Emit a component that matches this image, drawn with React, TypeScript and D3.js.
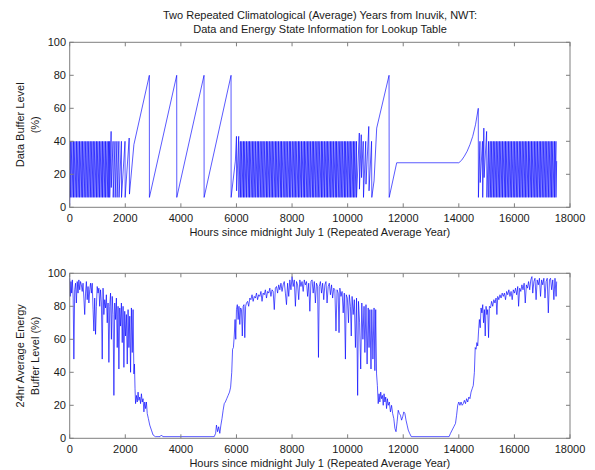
import React from 'react';
import * as d3 from 'd3';

// ---------- chart text ----------
const titleLines = [
  'Two Repeated Climatological (Average) Years from Inuvik, NWT:',
  'Data and Energy State Information for Lookup Table',
];
const xLabel = 'Hours since midnight July 1 (Repeated Average Year)';
const topYLabel = ['Data Buffer Level', '(%)'];
const bottomYLabel = ['24hr Average Energy', 'Buffer Level (%)'];

// ---------- ticks ----------
const xTicks = [0, 2000, 4000, 6000, 8000, 10000, 12000, 14000, 16000, 18000];
const yTicks = [0, 20, 40, 60, 80, 100];

// ---------- data buffer (top panel) ----------
const oscHigh = 40;
const oscLow = 6;
const bufferStart: [number, number][] = [[0, 1]];
const oscResetsAutumn = [25, 80, 136, 190, 247, 300, 355, 412, 465, 520, 577, 630, 686, 740, 797, 850, 905, 962, 1015, 1070, 1127, 1180, 1236, 1290, 1347, 1400, 1440];
const bufferTransition1: [number, number][] = [
  [1490, 46], [1495, 12], [1560, 40], [1565, 6], [1630, 40], [1635, 6], [1700, 40], [1705, 6],
  [1770, 40], [1775, 6], [1860, 40], [1865, 6], [1990, 40], [1995, 6], [2140, 42], [2150, 8],
  [2310, 38], [2865, 80], [2868, 6], [3850, 80], [3853, 6], [4833, 80], [4836, 6], [5805, 80],
  [5808, 6], [5960, 28], [6000, 43], [6005, 10], [6080, 43], [6085, 6],
];
const oscResetsSummer = [6140, 6195, 6252, 6302, 6360, 6418, 6468, 6525, 6583, 6632, 6690, 6748, 6798, 6855, 6913, 6962, 7020, 7078, 7128, 7185, 7243, 7292, 7350, 7408, 7458, 7515, 7573, 7622, 7680, 7738, 7788, 7845, 7903, 7952, 8010, 8068, 8118, 8175, 8233, 8282, 8340, 8398, 8448, 8505, 8563, 8612, 8670, 8728, 8778, 8835, 8893, 8942, 9000, 9058, 9108, 9165, 9223, 9272, 9330, 9388, 9438, 9495, 9553, 9602, 9660, 9718, 9768, 9825, 9883, 9932, 9990, 10048, 10098, 10155, 10213, 10262, 10320];
const bufferTransition2: [number, number][] = [
  [10420, 45], [10425, 11], [10490, 44], [10500, 18], [10560, 40], [10570, 6], [10650, 40], [10660, 14],
  [10760, 49], [10770, 10], [10860, 40], [10870, 6], [10950, 16], [11045, 48], [11490, 80], [11495, 6],
  [11765, 27], [14000, 27], [14100, 28.5], [14200, 31], [14300, 34], [14400, 38], [14500, 43], [14600, 50],
  [14700, 60], [14705, 6], [14760, 40], [14770, 15], [14850, 40], [14860, 6], [14900, 48], [14910, 18],
  [15000, 46], [15010, 6], [15070, 40], [15075, 6],
];
const oscResetsSpring = [15130, 15185, 15242, 15296, 15350, 15407, 15460, 15516, 15570, 15628, 15680, 15735, 15792, 15845, 15900, 15957, 16010, 16066, 16120, 16178, 16230, 16285, 16342, 16395, 16450, 16507, 16560, 16616, 16670, 16728, 16780, 16835, 16892, 16945, 17000, 17057, 17110, 17166, 17220, 17278, 17330, 17385, 17442, 17495];
const bufferEnd: [number, number][] = [[17520, 28]];

// ---------- energy buffer (bottom panel) ----------
const energyAutumn1: [number, number][] = [
  [0, 97], [20, 86], [45, 95], [70, 88], [95, 96], [125, 85], [150, 48], [180, 90], [210, 94], [240, 82], [270, 95], [300, 88], [330, 96], [360, 90], [390, 95], [420, 93], [450, 89], [480, 94], [510, 85], [540, 75], [570, 88], [600, 95], [630, 84], [660, 92], [690, 82], [720, 90], [750, 94], [780, 88], [810, 94], [840, 78], [870, 65], [900, 85], [930, 63], [960, 80], [990, 92], [1020, 88], [1050, 91], [1080, 80], [1110, 90], [1140, 82], [1170, 48], [1200, 91], [1230, 75], [1260, 84], [1290, 79], [1320, 87], [1350, 70], [1380, 82], [1410, 46], [1440, 80], [1470, 88], [1500, 60], [1530, 86], [1560, 75], [1590, 26], [1620, 82], [1650, 72], [1680, 85], [1710, 55], [1740, 80], [1770, 42], [1800, 79], [1830, 68], [1860, 82], [1890, 58], [1920, 80], [1950, 43], [1980, 77], [2010, 62], [2040, 75], [2070, 45], [2100, 78], [2130, 55], [2160, 74], [2190, 40], [2220, 79], [2250, 52], [2280, 78], [2310, 39], [2330, 45], [2350, 30], [2370, 21], [2400, 26], [2430, 22], [2460, 28], [2490, 23], [2520, 25], [2550, 21], [2580, 27], [2610, 22], [2640, 24], [2670, 16], [2700, 22], [2730, 18], [2760, 22], [2790, 15], [2830, 12], [2880, 8], [2940, 5], [3000, 2], [3080, 1],
];
const energyWinter1: [number, number][] = [[3250, 1], [3300, 2], [3350, 1], [5200, 1]];
const energySpring1: [number, number][] = [
  [5250, 3], [5280, 8], [5320, 4], [5360, 7], [5400, 3], [5440, 8], [5480, 12], [5520, 17], [5560, 21], [5600, 22], [5650, 24], [5700, 26], [5750, 28], [5790, 31], [5830, 40], [5860, 54], [5890, 55], [5920, 62], [5950, 72], [5975, 60], [6000, 78], [6030, 81], [6060, 72], [6090, 80], [6120, 69], [6150, 79], [6180, 78], [6210, 62], [6240, 80], [6270, 81], [6300, 61], [6330, 80], [6360, 82], [6400, 83], [6440, 80], [6480, 85],
];
const energySummer1: [number, number][] = [
  [6520, 84], [6560, 87], [6600, 83], [6640, 86], [6680, 85], [6720, 88], [6760, 84], [6800, 87], [6840, 86], [6880, 89], [6920, 83], [6960, 88], [7000, 87], [7040, 90], [7080, 85], [7120, 89], [7160, 88], [7200, 91], [7240, 86], [7280, 90], [7320, 89], [7360, 78], [7400, 91], [7440, 92], [7480, 88], [7520, 93], [7560, 90], [7600, 94], [7640, 89], [7680, 93], [7720, 95], [7760, 88], [7800, 81], [7840, 94], [7880, 86], [7920, 96], [7960, 90], [8000, 98], [8040, 92], [8080, 96], [8120, 80], [8160, 95], [8200, 93], [8240, 84], [8280, 96], [8320, 92], [8360, 95], [8400, 89], [8440, 96], [8480, 93], [8520, 95], [8560, 86], [8600, 94], [8640, 77], [8680, 95], [8720, 96], [8760, 88], [8800, 95], [8840, 82], [8880, 94], [8920, 92], [8950, 49], [8980, 92], [9020, 95], [9060, 88], [9100, 94], [9140, 84], [9180, 93], [9220, 95], [9260, 82], [9300, 92], [9340, 94], [9380, 87], [9420, 93], [9460, 85], [9500, 91], [9540, 90], [9580, 65], [9620, 90], [9660, 88], [9690, 64], [9720, 91], [9760, 86], [9800, 89], [9840, 76], [9880, 88], [9920, 48], [9950, 87], [9990, 85], [10030, 70], [10060, 87], [10100, 80], [10130, 62], [10160, 86], [10200, 75], [10240, 84], [10280, 55], [10320, 85], [10360, 26], [10390, 83], [10430, 70], [10470, 42], [10510, 82], [10550, 60], [10590, 80], [10620, 52], [10660, 81], [10700, 45], [10740, 79], [10770, 55], [10800, 78], [10840, 42], [10870, 78], [10910, 48], [10950, 79], [10980, 41], [11010, 78], [11040, 39], [11070, 32], [11100, 21],
];
const energyAutumn2: [number, number][] = [
  [11130, 27], [11160, 22], [11190, 28], [11220, 24], [11250, 26], [11280, 20], [11310, 27], [11340, 22], [11370, 25], [11400, 18], [11430, 24], [11460, 20], [11500, 22], [11540, 16], [11580, 20], [11620, 15], [11660, 12], [11700, 6], [11740, 4], [11780, 10], [11820, 17], [11860, 15], [11900, 14], [11940, 11], [11980, 13], [12020, 16], [12060, 15], [12100, 11], [12140, 8], [12180, 5], [12230, 3], [12290, 1],
];
const energyWinter2: [number, number][] = [[13650, 1]];
const energySpring2: [number, number][] = [
  [13700, 3], [13760, 5], [13820, 7], [13880, 9], [13920, 14], [13960, 20], [14000, 22], [14040, 20], [14080, 22], [14120, 20], [14160, 21], [14200, 23], [14240, 21], [14280, 24], [14320, 22], [14360, 25], [14400, 24], [14440, 28], [14480, 30], [14520, 32], [14560, 40], [14590, 55], [14620, 54], [14650, 58], [14680, 56], [14710, 65], [14740, 72], [14770, 67], [14800, 79], [14830, 76], [14860, 81], [14890, 70], [14920, 78], [14950, 62], [14980, 80], [15010, 75], [15040, 78], [15070, 61], [15100, 80], [15140, 79], [15180, 83], [15220, 80], [15260, 84], [15300, 82], [15340, 85], [15370, 75], [15400, 86], [15440, 84], [15480, 87], [15520, 85], [15560, 88], [15600, 86], [15640, 88], [15680, 84], [15720, 89], [15760, 87], [15800, 90], [15840, 86], [15880, 89], [15920, 84], [15960, 90], [16000, 88], [16040, 91], [16080, 87], [16120, 92], [16150, 80], [16190, 91], [16230, 89], [16270, 93], [16310, 90], [16350, 94], [16390, 82], [16430, 93], [16470, 91], [16510, 95], [16550, 90], [16590, 96], [16630, 98], [16660, 88], [16700, 95], [16740, 97], [16780, 84], [16820, 96], [16860, 93], [16900, 97], [16940, 86], [16980, 96], [17020, 93], [17060, 97], [17100, 85], [17140, 95], [17180, 97], [17220, 76], [17260, 96], [17300, 97], [17340, 90], [17380, 96], [17420, 84], [17460, 97], [17500, 86], [17520, 95],
];

const expandResets = (resets: number[]): [number, number][] =>
  resets.flatMap((h) => [[h, oscHigh], [h, oscLow]] as [number, number][]);

const bufferSeries: [number, number][] = [
  ...bufferStart,
  ...expandResets(oscResetsAutumn),
  ...bufferTransition1,
  ...expandResets(oscResetsSummer),
  ...bufferTransition2,
  ...expandResets(oscResetsSpring),
  ...bufferEnd,
];
const energySeries: [number, number][] = [
  ...energyAutumn1, ...energyWinter1, ...energySpring1, ...energySummer1,
  ...energyAutumn2, ...energyWinter2, ...energySpring2,
];

const FONT = '"Liberation Sans", Arial, Helvetica, sans-serif';
const AXIS = '#7f7f7f';
const TEXT = '#1a1a1a';
const LINE = '#0000ff';

const x = d3.scaleLinear().domain([0, 18000]).range([69.7, 570]);

function Panel({ top, bottom, data, yLabel }: { top: number; bottom: number; data: [number, number][]; yLabel: string[] }) {
  const y = d3.scaleLinear().domain([0, 100]).range([bottom, top]);
  const line = d3.line<[number, number]>().x((d) => x(d[0])).y((d) => y(d[1]));
  const [x0, x1] = x.range();
  const tl = 4;
  const midY = (top + bottom) / 2;
  return (
    <g>
      <path d={line(data) || ''} fill="none" stroke={LINE} strokeWidth={0.65} strokeLinejoin="miter" />
      <rect x={x0} y={top} width={x1 - x0} height={bottom - top} fill="none" stroke={AXIS} strokeWidth={1} />
      {xTicks.map((t) => (
        <g key={'x' + t}>
          <line x1={x(t)} x2={x(t)} y1={bottom} y2={bottom - tl} stroke={AXIS} />
          <line x1={x(t)} x2={x(t)} y1={top} y2={top + tl} stroke={AXIS} />
          <text x={x(t)} y={bottom + 14.7} textAnchor="middle" fontSize={11} fontFamily={FONT} fill={TEXT}>{t}</text>
        </g>
      ))}
      {yTicks.map((t) => (
        <g key={'y' + t}>
          <line x1={x0} x2={x0 + tl} y1={y(t)} y2={y(t)} stroke={AXIS} />
          <line x1={x1} x2={x1 - tl} y1={y(t)} y2={y(t)} stroke={AXIS} />
          <text x={66} y={y(t) + 4} textAnchor="end" fontSize={11} fontFamily={FONT} fill={TEXT}>{t}</text>
        </g>
      ))}
      <text x={(x0 + x1) / 2} y={bottom + 28.5} textAnchor="middle" fontSize={11} fontFamily={FONT} fill={TEXT}>{xLabel}</text>
      {yLabel.map((s, i) => (
        <text key={s} transform={`translate(${24 + i * 15},${midY}) rotate(-90)`} textAnchor="middle" fontSize={11} fontFamily={FONT} fill={TEXT}>{s}</text>
      ))}
    </g>
  );
}

export default function App() {
  return (
    <svg width={595} height={470} style={{ position: 'absolute', left: 0, top: 0, background: '#fff' }}>
      <rect width={595} height={470} fill="#fff" />
      {titleLines.map((s, i) => (
        <text key={s} x={320} y={19 + i * 13.5} textAnchor="middle" fontSize={11} fontFamily={FONT} fill={TEXT}>{s}</text>
      ))}
      <Panel top={42.3} bottom={207.3} data={bufferSeries} yLabel={topYLabel} />
      <Panel top={273.3} bottom={438.3} data={energySeries} yLabel={bottomYLabel} />
    </svg>
  );
}
